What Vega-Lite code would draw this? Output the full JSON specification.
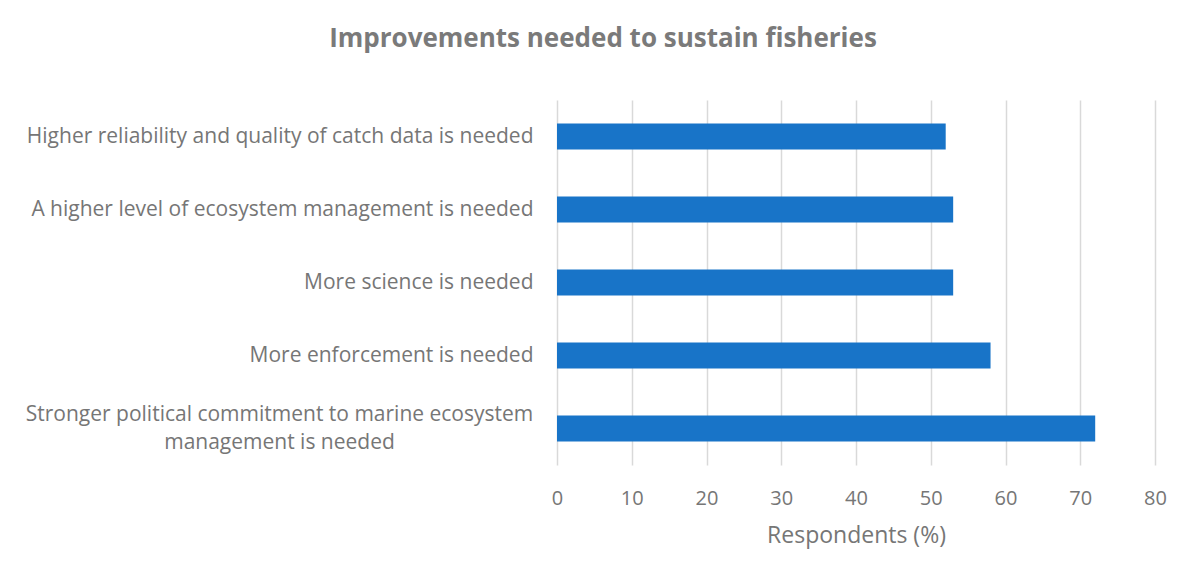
{
  "$schema": "https://vega.github.io/schema/vega-lite/v6.json",
  "width": 598,
  "height": 365,
  "autosize": {"type": "none"},
  "padding": {"left": 557, "top": 100, "right": 36, "bottom": 115},
  "background": "white",
  "title": {
    "text": "Improvements needed to sustain fisheries",
    "anchor": "middle",
    "dx": -253,
    "offset": 48,
    "font": "Open Sans",
    "fontSize": 26,
    "fontWeight": "bold",
    "color": "#7a7a7a"
  },
  "data": {
    "values": [
      {"item": "Higher reliability and quality of catch data is needed", "pct": 52},
      {"item": "A higher level of ecosystem management is needed", "pct": 53},
      {"item": "More science is needed", "pct": 53},
      {"item": "More enforcement is needed", "pct": 58},
      {"item": "Stronger political commitment to marine ecosystem management is needed", "pct": 72}
    ]
  },
  "mark": {"type": "bar", "color": "#1874C8"},
  "encoding": {
    "y": {
      "field": "item",
      "type": "nominal",
      "sort": null,
      "scale": {"paddingInner": 0.644, "paddingOuter": 0.322},
      "axis": {
        "title": null,
        "domain": false,
        "ticks": false,
        "grid": false,
        "labelLimit": 0,
        "labelFont": "Open Sans",
        "labelFontSize": 21,
        "labelColor": "#767676",
        "labelExpr": "datum.value == 'Stronger political commitment to marine ecosystem management is needed' ? ['Stronger political commitment to marine ecosystem', 'management is needed'] : datum.value",
        "labelAlign": {"condition": {"test": "datum.value == 'Stronger political commitment to marine ecosystem management is needed'", "value": "center"}, "value": "right"},
        "labelPadding": {"condition": {"test": "datum.value == 'Stronger political commitment to marine ecosystem management is needed'", "value": 278}, "value": 24},
        "labelOffset": {"condition": {"test": "datum.value == 'Stronger political commitment to marine ecosystem management is needed'", "value": -14}, "value": 0},
        "labelLineHeight": 28
      }
    },
    "x": {
      "field": "pct",
      "type": "quantitative",
      "scale": {"domain": [0, 80]},
      "axis": {
        "title": "Respondents (%)",
        "titleFont": "Open Sans",
        "titleFontSize": 23,
        "titleFontWeight": "normal",
        "titleColor": "#767676",
        "titlePadding": 16,
        "values": [0, 10, 20, 30, 40, 50, 60, 70, 80],
        "domain": false,
        "ticks": false,
        "labelFlush": false,
        "labelFont": "Open Sans",
        "labelFontSize": 20,
        "labelColor": "#767676",
        "labelPadding": 23,
        "gridColor": "#d9d9d9",
        "gridWidth": 1.5
      }
    }
  },
  "config": {"view": {"stroke": null}}
}
